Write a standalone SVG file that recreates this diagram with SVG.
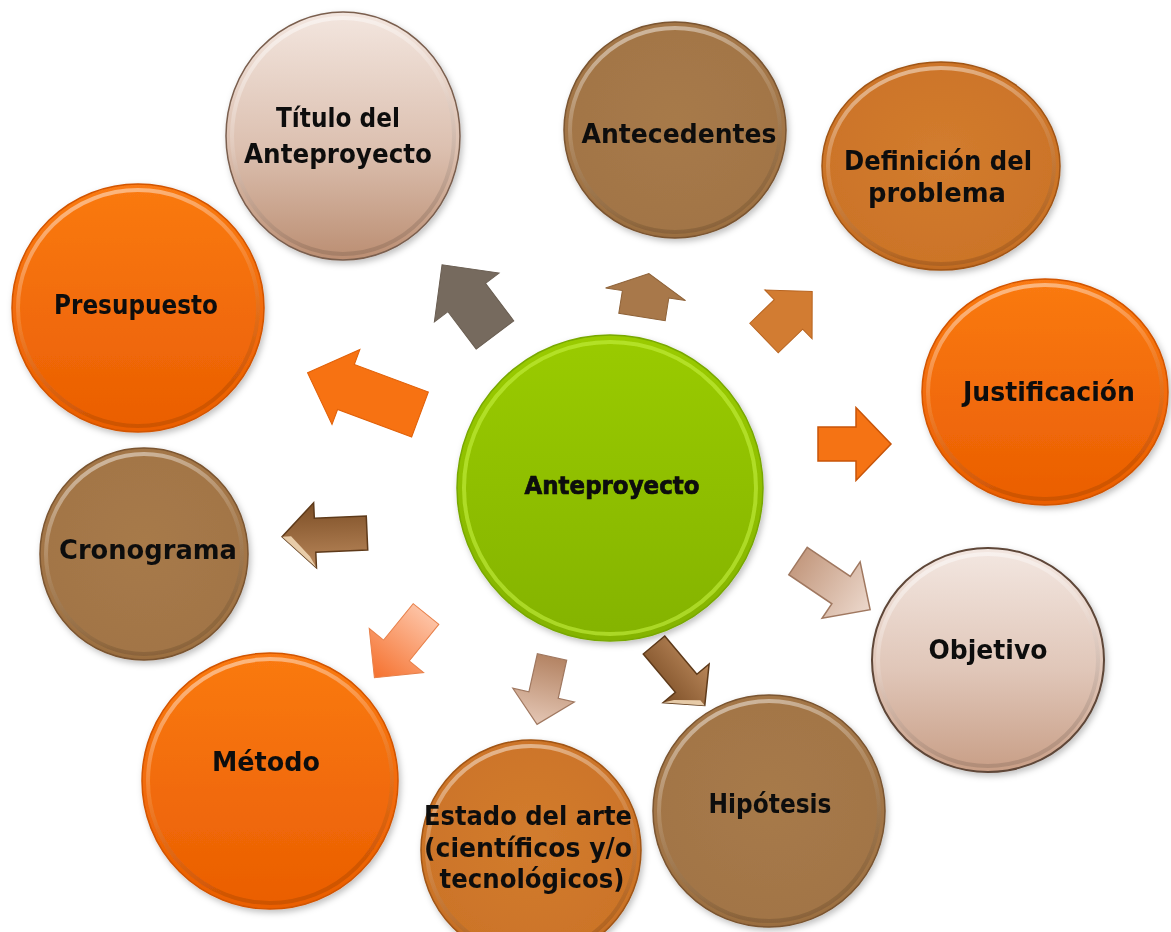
<svg xmlns="http://www.w3.org/2000/svg" width="1171" height="932" viewBox="0 0 1171 932">
<style>
.lbl{font-family:"DejaVu Sans","Liberation Sans",sans-serif;font-weight:bold;font-size:26px;fill:#111;text-anchor:middle}
.ctr{font-family:"DejaVu Sans","Liberation Sans",sans-serif;font-weight:900;font-size:25px;fill:#0a0a0a;stroke:#0a0a0a;stroke-width:0.7;text-anchor:middle}
.rim{fill:none;stroke:url(#rimG);stroke-width:4}
.edge{stroke-width:1.5}
</style>
<defs>
<filter id="sh" x="-20%" y="-20%" width="140%" height="140%"><feDropShadow dx="2" dy="3" stdDeviation="3" flood-color="#000" flood-opacity="0.25"/></filter>
<linearGradient id="rimG" x1="0" y1="0" x2="0.3" y2="1"><stop offset="0" stop-color="#fff" stop-opacity="0.55"/><stop offset="0.5" stop-color="#fff" stop-opacity="0.15"/><stop offset="1" stop-color="#000" stop-opacity="0.12"/></linearGradient>
<linearGradient id="gTit" x1="0" y1="0" x2="0" y2="1"><stop offset="0" stop-color="#f3e6df"/><stop offset="0.55" stop-color="#dcc0b0"/><stop offset="1" stop-color="#bb8e72"/></linearGradient>
<linearGradient id="gObj" x1="0" y1="0" x2="0" y2="1"><stop offset="0" stop-color="#f3e7e1"/><stop offset="0.55" stop-color="#e0c6b8"/><stop offset="1" stop-color="#c89e86"/></linearGradient>
<radialGradient id="gBrown" cx="50%" cy="45%" r="60%"><stop offset="0" stop-color="#a77a4a"/><stop offset="0.85" stop-color="#a27546"/><stop offset="1" stop-color="#8a5f34"/></radialGradient>
<radialGradient id="gOrBr" cx="50%" cy="45%" r="60%"><stop offset="0" stop-color="#d27c2e"/><stop offset="0.85" stop-color="#cc7428"/><stop offset="1" stop-color="#aa5a18"/></radialGradient>
<linearGradient id="gOr" x1="0" y1="0" x2="0" y2="1"><stop offset="0" stop-color="#fa7a12"/><stop offset="1" stop-color="#ea5e02"/></linearGradient>
<linearGradient id="gGreen" x1="0" y1="0" x2="0" y2="1"><stop offset="0" stop-color="#9acb00"/><stop offset="1" stop-color="#84b300"/></linearGradient>
<linearGradient id="aTan" x1="0" y1="0" x2="1" y2="0"><stop offset="0" stop-color="#c49a80"/><stop offset="1" stop-color="#ecd8cc"/></linearGradient>
<linearGradient id="aTan2" x1="0" y1="0" x2="1" y2="0"><stop offset="0" stop-color="#b48464"/><stop offset="1" stop-color="#e4c6b4"/></linearGradient>
<linearGradient id="aSal" x1="0" y1="0" x2="1" y2="0"><stop offset="0" stop-color="#fdc2a4"/><stop offset="1" stop-color="#f5712e"/></linearGradient>
<linearGradient id="aBev" x1="0" y1="0" x2="0" y2="1"><stop offset="0" stop-color="#b9875a"/><stop offset="1" stop-color="#7c4e26"/></linearGradient>
</defs>

<g id="connectors">
<path d="M0,-23.5 H47 V-40.5 L88,0 L47,40.5 V23.5 H0 Z" transform="translate(495,335) rotate(-127)" fill="#766a5e" stroke="#6a5e52" stroke-width="1"/>
<path d="M0,-23.5 H23 V-40.5 L44,0 L23,40.5 V23.5 H0 Z" transform="translate(642,317) rotate(-81)" fill="#a8784a" stroke="#8e6238" stroke-width="1"/>
<path d="M0,-20.5 H34 V-34 L67,0 L34,34 V20.5 H0 Z" transform="translate(764,338) rotate(-44)" fill="#d27c32" stroke="#b86420" stroke-width="1"/>
<path d="M0,-17 H38 V-36.5 L73,0 L38,36.5 V17 H0 Z" transform="translate(818,444)" fill="#f57314" stroke="#c85408" stroke-width="1.5"/>
<path d="M0,-16.5 H52 V-34 L87,0 L52,34 V16.5 H0 Z" transform="translate(798,561) rotate(34)" fill="url(#aTan)" stroke="#a07860" stroke-width="1.5"/>
<path d="M0,-14 H50 V-30 L79,0 L50,30 V14 H0 Z" transform="translate(654,645) rotate(50)" fill="url(#aBev)" stroke="#5e3a1a" stroke-width="1.5"/>
<path d="M79,0 L50,30 L55,20 L72,0 Z" transform="translate(654,645) rotate(50)" fill="#f0d6b4" opacity="0.9"/>
<path d="M0,-15 H39 V-31.5 L69,0 L39,31.5 V15 H0 Z" transform="translate(552,657) rotate(102.5)" fill="url(#aTan2)" stroke="#a07860" stroke-width="1.2"/>
<path d="M0,-16.5 H47 V-35 L82,0 L47,35 V16.5 H0 Z" transform="translate(426,614) rotate(129)" fill="url(#aSal)" stroke="#e8804a" stroke-width="1"/>
<path d="M0,-17 H52 V-32.5 L85,0 L52,32.5 V17 H0 Z" transform="translate(367,533) rotate(177.5)" fill="url(#aBev)" stroke="#5e3a1a" stroke-width="1.5"/>
<path d="M85,0 L52,-32.5 L58,-21 L76,0 Z" transform="translate(367,533) rotate(177.5)" fill="#f0d6b4" opacity="0.9"/>
<path d="M0,-24 H79 V-40 L120,0 L79,40 V24 H0 Z" transform="translate(420,414.5) rotate(-159.6)" fill="#f77212" stroke="#e06008" stroke-width="1"/>
</g>

<g id="n-titulo" filter="url(#sh)">
<ellipse cx="343" cy="136" rx="117" ry="124" fill="url(#gTit)" stroke="#7a5e4e" class="edge"/>
<ellipse cx="343" cy="136" rx="111" ry="118" class="rim"/>
<text class="lbl" x="338" y="127" textLength="124" lengthAdjust="spacingAndGlyphs">Título del</text>
<text class="lbl" x="338" y="163" textLength="188" lengthAdjust="spacingAndGlyphs">Anteproyecto</text>
</g>

<g id="n-antecedentes" filter="url(#sh)">
<ellipse cx="675" cy="130" rx="111" ry="108" fill="url(#gBrown)" stroke="#7a5430" class="edge"/>
<ellipse cx="675" cy="130" rx="105" ry="102" class="rim"/>
<text class="lbl" x="679" y="143" textLength="195" lengthAdjust="spacingAndGlyphs">Antecedentes</text>
</g>

<g id="n-definicion" filter="url(#sh)">
<ellipse cx="941" cy="166" rx="119" ry="104" fill="url(#gOrBr)" stroke="#a05414" class="edge"/>
<ellipse cx="941" cy="166" rx="113" ry="98" class="rim"/>
<text class="lbl" x="938" y="170" textLength="188" lengthAdjust="spacingAndGlyphs">Definición del</text>
<text class="lbl" x="937" y="202" textLength="138" lengthAdjust="spacingAndGlyphs">problema</text>
</g>

<g id="n-presupuesto" filter="url(#sh)">
<ellipse cx="138" cy="308" rx="126" ry="124" fill="url(#gOr)" stroke="#d25400" class="edge"/>
<ellipse cx="138" cy="308" rx="120" ry="118" class="rim"/>
<text class="lbl" x="136" y="314" textLength="164" lengthAdjust="spacingAndGlyphs">Presupuesto</text>
</g>

<g id="n-justificacion" filter="url(#sh)">
<ellipse cx="1045" cy="392" rx="123" ry="113" fill="url(#gOr)" stroke="#d25400" class="edge"/>
<ellipse cx="1045" cy="392" rx="117" ry="107" class="rim"/>
<text class="lbl" x="1049" y="401" textLength="172" lengthAdjust="spacingAndGlyphs">Justificación</text>
</g>

<g id="n-anteproyecto" filter="url(#sh)">
<circle cx="610" cy="488" r="153" fill="url(#gGreen)" stroke="#78a800" class="edge"/>
<circle cx="610" cy="488" r="146" fill="none" stroke="#c4f040" stroke-opacity="0.6" stroke-width="4"/>
<text class="ctr" x="612" y="494" textLength="175" lengthAdjust="spacingAndGlyphs">Anteproyecto</text>
</g>

<g id="n-cronograma" filter="url(#sh)">
<ellipse cx="144" cy="554" rx="104" ry="106" fill="url(#gBrown)" stroke="#7a5430" class="edge"/>
<ellipse cx="144" cy="554" rx="98" ry="100" class="rim"/>
<text class="lbl" x="148" y="559" textLength="178" lengthAdjust="spacingAndGlyphs">Cronograma</text>
</g>

<g id="n-objetivo" filter="url(#sh)">
<ellipse cx="988" cy="660" rx="116" ry="112" fill="url(#gObj)" stroke="#5e4638" stroke-width="2"/>
<ellipse cx="988" cy="660" rx="110" ry="106" class="rim"/>
<text class="lbl" x="988" y="659" textLength="119" lengthAdjust="spacingAndGlyphs">Objetivo</text>
</g>

<g id="n-metodo" filter="url(#sh)">
<circle cx="270" cy="781" r="128" fill="url(#gOr)" stroke="#d25400" class="edge"/>
<circle cx="270" cy="781" r="122" class="rim"/>
<text class="lbl" x="266" y="771" textLength="108" lengthAdjust="spacingAndGlyphs">Método</text>
</g>

<g id="n-estado" filter="url(#sh)">
<circle cx="531" cy="850" r="110" fill="url(#gOrBr)" stroke="#a05414" class="edge"/>
<circle cx="531" cy="850" r="104" class="rim"/>
<text class="lbl" x="528" y="825" textLength="208" lengthAdjust="spacingAndGlyphs">Estado del arte</text>
<text class="lbl" x="528" y="857" textLength="208" lengthAdjust="spacingAndGlyphs">(científicos y/o</text>
<text class="lbl" x="532" y="888" textLength="185" lengthAdjust="spacingAndGlyphs">tecnológicos)</text>
</g>

<g id="n-hipotesis" filter="url(#sh)">
<circle cx="769" cy="811" r="116" fill="url(#gBrown)" stroke="#7a5430" class="edge"/>
<circle cx="769" cy="811" r="110" class="rim"/>
<text class="lbl" x="770" y="813" textLength="123" lengthAdjust="spacingAndGlyphs">Hipótesis</text>
</g>
</svg>
